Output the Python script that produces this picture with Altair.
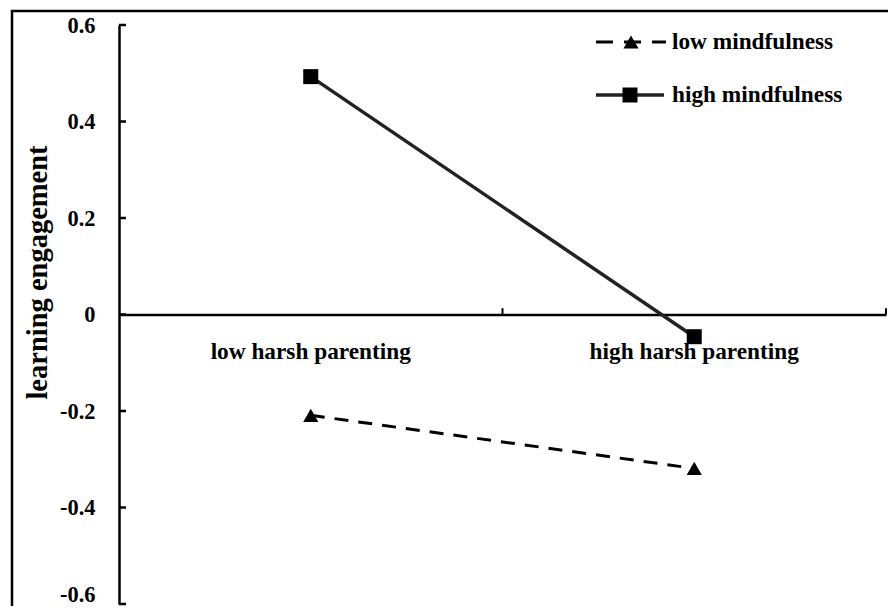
import altair as alt
import pandas as pd

# ---- data ----
categories = ["low harsh parenting", "high harsh parenting"]
series = ["low mindfulness", "high mindfulness"]
low_mindfulness = [-0.209, -0.319]
high_mindfulness = [0.493, -0.046]
y_ticks = [-0.6, -0.4, -0.2, 0.0, 0.2, 0.4, 0.6]

FONT = "Liberation Serif"
W, H = 767, 579
Y_DOMAIN = [-0.6, 0.6]

df = pd.DataFrame({
    "parenting": categories * 2,
    "series": [series[0]] * 2 + [series[1]] * 2,
    "value": low_mindfulness + high_mindfulness,
})
df_low = df[df.series == series[0]]
df_high = df[df.series == series[1]]
ticks_df = pd.DataFrame({"t": y_ticks})
cat_df = pd.DataFrame({"parenting": categories})
one = pd.DataFrame({"a": [0]})

zero_offset = -H * (0 - Y_DOMAIN[0]) / (Y_DOMAIN[1] - Y_DOMAIN[0])

x_enc = alt.X(
    "parenting:N",
    sort=categories,
    scale=alt.Scale(type="band", domain=categories, paddingInner=0, paddingOuter=0),
    axis=alt.Axis(
        title=None, orient="bottom", offset=zero_offset, labelAngle=0,
        ticks=False, tickSize=0, labelPadding=26, labelFont=FONT, labelLimit=0,
        labelFontSize=23.3, labelFontWeight="bold", labelColor="black",
        domainColor="black", domainWidth=2.5, grid=False,
    ),
)
y_scale = alt.Scale(domain=Y_DOMAIN, nice=False, zero=False)
y_enc = alt.Y(
    "value:Q",
    scale=y_scale,
    axis=alt.Axis(
        title="learning engagement", values=y_ticks, grid=False,
        ticks=False, tickSize=0, labelPadding=24, labelLimit=0,
        labelExpr="datum.value == 0 ? '0' : (datum.value < 0 ? '-' + format(-datum.value, '.1f') : format(datum.value, '.1f'))",
        labelOffset={"condition": {"test": "datum.value < -0.55", "value": -10}, "value": 0},
        labelFont=FONT, labelFontSize=22.4, labelFontWeight="bold", labelColor="black",
        domainColor="black", domainWidth=2.5,
        titleFont=FONT, titleFontSize=28.5, titleFontWeight="bold", titleColor="black",
        titleAngle=-90, titleX=-82, titleY=247, titleAlign="center", titleBaseline="middle",
    ),
)

low_line = alt.Chart(df_low).mark_line(
    color="black", strokeWidth=3, strokeDash=[14, 10]
).encode(x=x_enc, y=y_enc)
high_line = alt.Chart(df_high).mark_line(
    color="#222222", strokeWidth=3.5
).encode(x=x_enc, y=y_enc)
low_pts = alt.Chart(df_low).mark_point(
    shape="triangle-up", filled=True, color="black", size=230, opacity=1
).encode(x=x_enc, y=y_enc)
high_pts = alt.Chart(df_high).mark_point(
    shape="square", filled=True, color="black", size=225, opacity=1
).encode(x=x_enc, y=y_enc)

# inward y ticks
y_tick_rules = alt.Chart(ticks_df).mark_rule(color="black", strokeWidth=2.5).encode(
    y=alt.Y("t:Q", scale=y_scale), x=alt.value(0), x2=alt.value(7)
)
# upward x ticks at band boundaries
x_tick_rules = alt.Chart(cat_df).mark_rule(color="black", strokeWidth=2).encode(
    x=alt.X("parenting:N", sort=categories, bandPosition=1),
    y=alt.datum(0), y2=alt.datum(0.013),
)

# frame around the figure
frame = alt.Chart(one).mark_rect(
    filled=False, stroke="black", strokeWidth=2.5
).encode(x=alt.value(-107), y=alt.value(-14), x2=alt.value(W + 60), y2=alt.value(H + 60))

# legend
leg_low_line = alt.Chart(one).mark_rule(color="black", strokeWidth=3, strokeDash=[17, 11]).encode(
    x=alt.value(477), x2=alt.value(547), y=alt.value(17)
)
leg_low_pt = alt.Chart(one).mark_point(
    shape="triangle-up", filled=True, color="black", size=230, opacity=1
).encode(x=alt.value(512), y=alt.value(17))
leg_high_line = alt.Chart(one).mark_rule(color="#222222", strokeWidth=3.5).encode(
    x=alt.value(477), x2=alt.value(545), y=alt.value(70)
)
leg_high_pt = alt.Chart(one).mark_point(
    shape="square", filled=True, color="black", size=225, opacity=1
).encode(x=alt.value(511), y=alt.value(70))
leg_text_low = alt.Chart(one).mark_text(
    text=series[0], font=FONT, fontSize=23.3, fontWeight="bold", align="left", baseline="middle", color="black"
).encode(x=alt.value(553), y=alt.value(17))
leg_text_high = alt.Chart(one).mark_text(
    text=series[1], font=FONT, fontSize=23.3, fontWeight="bold", align="left", baseline="middle", color="black"
).encode(x=alt.value(553), y=alt.value(70))

chart = alt.layer(
    frame, high_line, low_line, high_pts, low_pts, y_tick_rules, x_tick_rules,
    leg_low_line, leg_low_pt, leg_high_line, leg_high_pt, leg_text_low, leg_text_high,
).properties(
    width=W, height=H,
    autosize=alt.AutoSizeParams(type="none"),
    padding={"left": 111, "top": 17, "right": 2, "bottom": 2},
    background="white",
).configure_view(stroke=None)

chart.save("out.html", embed_options={"renderer": "svg", "actions": False})
